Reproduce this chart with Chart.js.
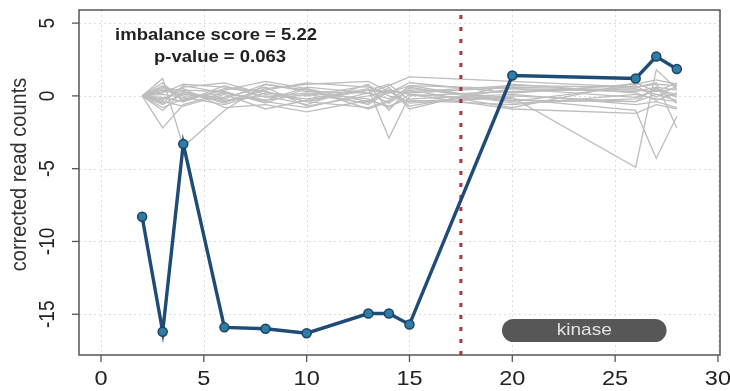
<!DOCTYPE html>
<html>
<head>
<meta charset="utf-8">
<script src="https://cdn.jsdelivr.net/npm/chart.js@4.4.1/dist/chart.umd.min.js"></script>
<style>
  html, body { margin: 0; padding: 0; background: #ffffff; }
  canvas { display: block; }
</style>
</head>
<body>
<canvas id="chart" width="730" height="391"></canvas>
<script>
// Exon positions along the transcript
const exonPositions = [2, 3, 4, 6, 8, 10, 13, 14, 15, 20, 26, 27, 28];

// Corrected read counts of the tested sample
const sampleCounts = [-8.3, -16.2, -3.3, -15.9, -16.0, -16.3, -14.95, -14.95, -15.7, 1.4, 1.2, 2.7, 1.85];

// Corrected read counts of the reference samples
const referenceCounts = [
  [0,  0.9, -0.4,  0.5,  0.3, -0.4,  0.4,  0.2,  0.7,  0.5,  0.3,  0.6,  0.4],
  [0, -2.2, -0.6,  0.2, -0.3,  0.1, -0.5,  0.4,  0.1, -0.3, -0.4,  0.1, -0.3],
  [0,  1.2, -3.5, -1.0,  0.8,  0.3,  0.2,  0.7,  1.3,  1.0,  0.6,  0.8,  0.7],
  [0, -0.6,  0.2, -0.4,  0.5,  0.8,  1.0,  0.3,  0.2,  0.6,  0.4,  0.3,  0.5],
  [0,  0.3,  0.5, -0.8, -0.6, -1.1, -0.3, -0.7, -0.2,  0.1, -0.6, -0.4, -0.8],
  [0, -0.3,  0.6,  0.9,  0.1, -0.2,  0.5, -2.9,  0.0,  0.3,  0.5,  0.1,  0.0],
  [0,  0.5,  0.1, -0.2,  0.8,  0.4, -0.6,  0.3, -0.5, -0.1, -4.9,  1.8,  0.5],
  [0, -0.8, -0.2,  0.2, -0.3,  0.6,  0.2, -0.2,  0.5, -0.2, -1.0, -4.3, -1.4],
  [0,  0.2,  0.8,  0.6,  0.3, -0.4, -0.8, -0.3,  0.3,  0.7,  0.6,  0.9, -2.2],
  [0, -0.4, -0.7,  0.1, -0.9, -0.3,  0.4,  0.8, -0.3, -0.6,  0.1, -0.2, -0.4],
  [0,  0.6,  0.3, -0.5,  0.4,  0.9,  0.6,  0.2,  0.9,  0.2,  0.8,  1.1,  0.8],
  [0, -0.1, -0.4,  0.7, -0.1,  0.2, -0.2, -0.8,  0.1, -0.9, -1.2, -0.6, -0.9],
  [0,  0.4,  0.0, -0.1,  0.6, -0.7,  0.0,  0.4, -0.7,  0.5, -0.1,  0.4,  0.1],
  [0, -0.2,  0.4,  0.3, -0.5,  0.5, -0.9, -0.4,  0.7, -0.4,  0.7, -0.1,  0.7],
  [0,  0.1, -0.1, -0.6,  0.2,  0.0,  0.7,  0.0, -0.4,  0.0, -0.4,  0.6, -0.5],
  [0, -0.5,  0.7,  0.2, -0.4, -0.8,  0.2, -0.5,  0.4, -0.8,  0.9,  0.3,  0.9],
  [0,  0.7, -0.3,  0.4,  1.0,  0.5, -0.4,  0.6, -0.9,  0.8,  0.2, -0.3,  0.2],
  [0, -1.0,  0.3, -0.3,  0.0, -0.6,  0.8, -1.0,  0.6, -0.5, -0.2,  0.5, -0.1]
];

const xTicks = [0, 5, 10, 15, 20, 25, 30];
const yTicks = [-15, -10, -5, 0, 5];
const xRange = [-1.07, 30.1];
const yRange = [-17.8, 5.9];

// Breakpoint between exon 15 and exon 20
const breakpoint = 17.5;

// Kinase domain span (exon coordinates)
const kinaseDomain = [19.5, 27.5];
const kinaseLabel = 'kinase';

const scoreLines = ['imbalance score = 5.22', 'p-value = 0.063'];
const yTitle = 'corrected read counts';

const FONT = '"Liberation Sans", Arial, Helvetica, sans-serif';
const STRETCH = 1.12;

function toPoints(ys) {
  return exonPositions.map((x, i) => ({ x: x, y: ys[i] }));
}

function stretchedText(ctx, text, x, y, sx) {
  ctx.save();
  ctx.translate(x, y);
  ctx.scale(sx, 1);
  ctx.fillText(text, 0, 0);
  ctx.restore();
}

const datasets = [];

datasets.push({
  label: 'sample',
  data: toPoints(sampleCounts),
  borderColor: '#1e4c76',
  borderWidth: 3.4,
  pointRadius: 4.5,
  pointBackgroundColor: '#2f7ca4',
  pointBorderColor: '#1b4468',
  pointBorderWidth: 1.5,
  tension: 0,
  order: 0
});

datasets.push({
  label: 'breakpoint',
  data: [{ x: breakpoint, y: yRange[0] }, { x: breakpoint, y: yRange[1] }],
  borderColor: '#a8353a',
  borderWidth: 3,
  borderDash: [4, 8],
  pointRadius: 0,
  order: 1
});

referenceCounts.forEach((ys, i) => {
  datasets.push({
    label: 'reference ' + (i + 1),
    data: toPoints(ys),
    borderColor: '#bdbdbd',
    borderWidth: 1.3,
    pointRadius: 0,
    tension: 0,
    order: 2
  });
});

// Grid lines and the kinase domain drawn beneath the series
const backdrop = {
  id: 'backdrop',
  beforeDatasetsDraw(chart) {
    const { ctx, chartArea: a, scales: { x, y } } = chart;
    ctx.save();
    ctx.strokeStyle = '#dcdcdc';
    ctx.lineWidth = 1;
    ctx.setLineDash([2, 3]);
    xTicks.forEach(v => {
      const px = Math.round(x.getPixelForValue(v)) + 0.5;
      ctx.beginPath(); ctx.moveTo(px, a.top); ctx.lineTo(px, a.bottom); ctx.stroke();
    });
    yTicks.forEach(v => {
      const py = Math.round(y.getPixelForValue(v)) + 0.5;
      ctx.beginPath(); ctx.moveTo(a.left, py); ctx.lineTo(a.right, py); ctx.stroke();
    });
    ctx.setLineDash([]);

    // kinase domain track
    const x0 = x.getPixelForValue(kinaseDomain[0]);
    const x1 = x.getPixelForValue(kinaseDomain[1]);
    const top = a.bottom - 36, h = 23, r = h / 2;
    ctx.fillStyle = '#575757';
    ctx.beginPath();
    ctx.moveTo(x0 + r, top);
    ctx.lineTo(x1 - r, top);
    ctx.arc(x1 - r, top + r, r, -Math.PI / 2, Math.PI / 2);
    ctx.lineTo(x0 + r, top + h);
    ctx.arc(x0 + r, top + r, r, Math.PI / 2, Math.PI * 1.5);
    ctx.closePath();
    ctx.fill();
    ctx.fillStyle = '#e2e2e2';
    ctx.font = '17px ' + FONT;
    ctx.textAlign = 'center';
    ctx.textBaseline = 'middle';
    stretchedText(ctx, kinaseLabel, (x0 + x1) / 2, top + r, STRETCH);
    ctx.restore();
  }
};

// Frame, ticks, labels and the score annotation
const frame = {
  id: 'frame',
  afterDatasetsDraw(chart) {
    const { ctx, chartArea: a, scales: { x, y } } = chart;
    ctx.save();
    ctx.strokeStyle = '#555555';
    ctx.lineWidth = 1.5;
    ctx.strokeRect(a.left, a.top, a.right - a.left, a.bottom - a.top);

    ctx.fillStyle = '#222222';
    ctx.lineWidth = 1.3;
    // x axis
    ctx.font = '21px ' + FONT;
    ctx.textAlign = 'center';
    ctx.textBaseline = 'middle';
    xTicks.forEach(v => {
      const px = x.getPixelForValue(v);
      ctx.beginPath(); ctx.moveTo(px, a.bottom); ctx.lineTo(px, a.bottom + 7); ctx.stroke();
      stretchedText(ctx, String(v), px, a.bottom + 24, STRETCH);
    });
    // y axis
    ctx.font = '19px ' + FONT;
    yTicks.forEach(v => {
      const py = y.getPixelForValue(v);
      ctx.beginPath(); ctx.moveTo(a.left - 7, py); ctx.lineTo(a.left, py); ctx.stroke();
      ctx.save();
      ctx.translate(a.left - 31, py);
      ctx.scale(STRETCH, 1);
      ctx.rotate(-Math.PI / 2);
      ctx.fillText(String(v), 0, 0);
      ctx.restore();
    });
    // y title
    ctx.font = '20px ' + FONT;
    ctx.fillStyle = '#333333';
    ctx.save();
    ctx.translate(20, (a.top + a.bottom) / 2 - 8);
    ctx.scale(STRETCH, 1);
    ctx.rotate(-Math.PI / 2);
    ctx.fillText(yTitle, 0, 0);
    ctx.restore();

    // score annotation
    ctx.fillStyle = '#222222';
    ctx.font = 'bold 16.5px ' + FONT;
    stretchedText(ctx, scoreLines[0], a.left + 137, a.top + 25, STRETCH);
    stretchedText(ctx, scoreLines[1], a.left + 141, a.top + 47, STRETCH);
    ctx.restore();
  }
};

new Chart(document.getElementById('chart'), {
  type: 'line',
  data: { datasets: datasets },
  options: {
    responsive: false,
    devicePixelRatio: 1,
    animation: false,
    events: [],
    layout: { padding: { left: 79, top: 10, right: 10, bottom: 36 } },
    scales: {
      x: { type: 'linear', min: xRange[0], max: xRange[1], display: false },
      y: { type: 'linear', min: yRange[0], max: yRange[1], display: false }
    },
    plugins: { legend: { display: false }, tooltip: { enabled: false } }
  },
  plugins: [backdrop, frame]
});
</script>
</body>
</html>
